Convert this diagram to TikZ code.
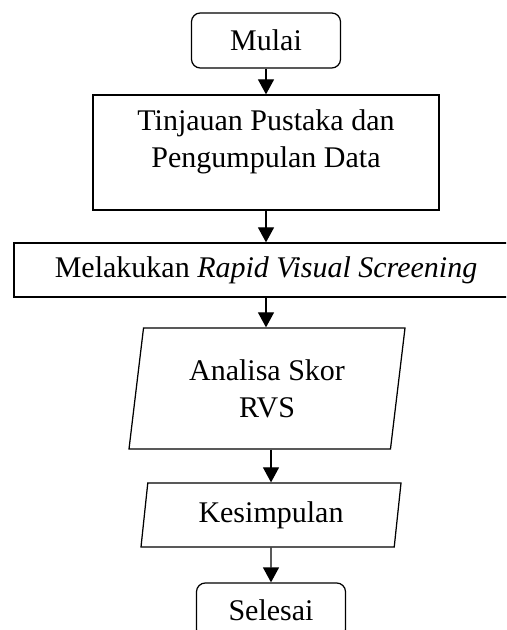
\documentclass[tikz,border=0pt]{standalone}
\usepackage{fontspec}
\setmainfont{Liberation Serif}
\usepackage{tikz}
\usetikzlibrary{shapes.geometric, arrows.meta}

\begin{document}
\begin{tikzpicture}[
        x=0.4pt, y=-0.4pt,
        every node/.style={font=\fontsize{12}{14.8}\selectfont},
        term/.style={draw, line width=0.5pt, rounded corners=3.5pt, minimum width=59.6pt, minimum height=22pt, inner sep=0pt},
        proc/.style={draw, line width=0.5pt, inner sep=0pt},
        io/.style={draw, line width=0.5pt, trapezium, trapezium left angle=76, trapezium right angle=104, trapezium stretches body, inner sep=0pt, align=center},
        txt/.style={align=center, inner sep=0pt},
        arr/.style={line width=0.5pt, -{Triangle[width=6.4pt, length=6pt]}}
    ]
    \useasboundingbox (0,0) rectangle (506,630);
    \clip (0,0) rectangle (506,630);

    % Start
    \node[term] (mulai) at (266, 40.5) {Mulai};

    % Literature and data
    \node[proc, minimum width=138.4pt, minimum height=46pt] (tinjauan) at (266, 152.5) {};
    \node[txt] (tinjauantxt) at (266, 141.5) {Tinjauan Pustaka dan\\Pengumpulan Data};

    % Screening (box runs past the right edge)
    \node[proc, minimum width=201.6pt, minimum height=21.6pt] (rvs) at (266, 270) {Melakukan \textit{Rapid Visual Screening}};

    % Score and conclusion
    \node[io, minimum width=110.4pt, minimum height=48.4pt] (analisa) at (267, 388.5) {Analisa Skor\\RVS};
    \node[io, minimum width=104pt, minimum height=25.6pt] (kesimpulan) at (271, 515) {Kesimpulan};

    % End
    \node[term] (selesai) at (271, 610.5) {Selesai};

    % Arrows
    \draw[arr] (mulai.south) -- (tinjauan.north);
    \draw[arr] (tinjauan.south) -- (rvs.north);
    \draw[arr] (rvs.south) -- (rvs.south |- analisa.north);
    \draw[arr] (analisa.south -| kesimpulan.north) -- (kesimpulan.north);
    \draw[arr] (kesimpulan.south) -- (selesai.north);

\end{tikzpicture}
\end{document}
